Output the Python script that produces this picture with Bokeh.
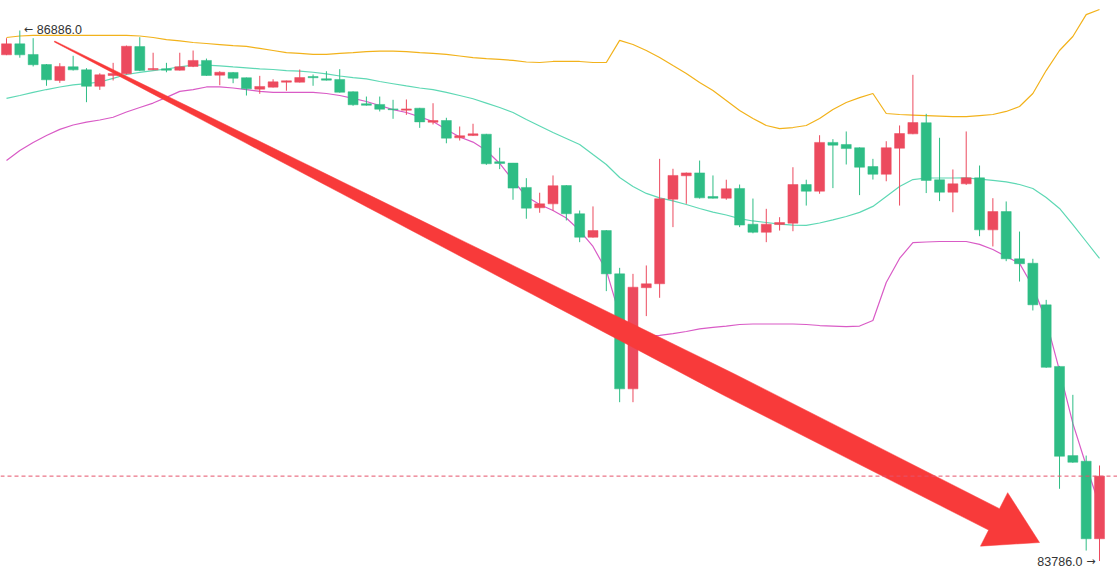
import numpy as np
from bokeh.plotting import figure
from bokeh.models import Range1d, ColumnDataSource, Span
from bokeh.core.properties import value
from bokeh.embed import file_html
from bokeh.resources import INLINE

# ---------------- data ----------------
opens = [86744, 86808, 86746, 86687, 86594, 86674, 86656, 86560, 86623, 86633,
         86792, 86656, 86662, 86654, 86676, 86711, 86625, 86641, 86610, 86543,
         86555, 86584, 86584, 86617, 86604, 86600, 86528, 86458, 86454, 86428,
         86420, 86432, 86350, 86360, 86259, 86272, 86280, 86119, 86111, 85969,
         85850, 85873, 85980, 85815, 85678, 85717, 85464, 84792, 85383, 85406,
         85900, 86037, 86054, 85916, 85906, 85963, 85754, 85707, 85752, 85760,
         85986, 85947, 86232, 86220, 86201, 86091, 86046, 86198, 86282, 86347,
         86014, 85941, 85990, 86025, 85721, 85828, 85552, 85526, 85283, 84923,
         84402, 84369, 83916]
highs = [86841, 86886, 86841, 86690, 86695, 86738, 86666, 86636, 86697, 86798,
         86847, 86756, 86697, 86756, 86769, 86722, 86648, 86643, 86611, 86621,
         86601, 86593, 86658, 86629, 86648, 86660, 86530, 86500, 86500, 86481,
         86483, 86434, 86461, 86376, 86325, 86341, 86282, 86201, 86112, 86023,
         85938, 86039, 85982, 85834, 85858, 85720, 85499, 85464, 85513, 86136,
         86078, 86056, 86126, 86039, 86014, 85986, 85904, 85844, 85795, 86087,
         86014, 86274, 86251, 86296, 86203, 86136, 86239, 86331, 86627, 86399,
         86259, 86074, 86296, 86097, 85906, 85887, 85711, 85552, 85312, 84926,
         84757, 84402, 84344]
lows = [86742, 86727, 86676, 86563, 86580, 86652, 86467, 86539, 86594, 86630,
        86649, 86655, 86642, 86652, 86672, 86621, 86566, 86578, 86506, 86516,
        86553, 86534, 86582, 86563, 86594, 86523, 86446, 86447, 86413, 86370,
        86393, 86317, 86337, 86227, 86243, 86270, 86101, 86076, 85897, 85786,
        85821, 85834, 85776, 85649, 85676, 85363, 84714, 84714, 85217, 85324,
        85737, 85873, 85904, 85904, 85897, 85737, 85701, 85649, 85717, 85713,
        85863, 85932, 85965, 86103, 85924, 86015, 86005, 85863, 86280, 85936,
        85889, 85824, 85984, 85684, 85624, 85538, 85419, 85250, 84915, 84208,
        84360, 83847, 83786]
closes = [86808, 86744, 86686, 86598, 86676, 86656, 86560, 86627, 86635, 86794,
          86652, 86664, 86654, 86674, 86711, 86623, 86642, 86607, 86545, 86559,
          86586, 86592, 86611, 86610, 86596, 86525, 86452, 86449, 86426, 86423,
          86428, 86352, 86360, 86257, 86271, 86282, 86107, 86109, 85965, 85848,
          85873, 85979, 85815, 85678, 85717, 85464, 84792, 85386, 85406, 85903,
          86039, 86054, 85908, 85906, 85961, 85749, 85707, 85754, 85764, 85986,
          85947, 86232, 86216, 86196, 86087, 86046, 86201, 86284, 86348, 86010,
          85941, 85990, 86025, 85721, 85828, 85552, 85523, 85283, 84918, 84398,
          84363, 83916, 84282]

boll_upper = [86845, 86854, 86857, 86857, 86857, 86857, 86857, 86857, 86857, 86857,
              86854, 86845, 86833, 86825, 86816, 86810, 86804, 86798, 86793, 86781,
              86769, 86757, 86752, 86746, 86746, 86752, 86757, 86763, 86766, 86766,
              86763, 86757, 86752, 86746, 86737, 86728, 86722, 86717, 86711, 86702,
              86699, 86705, 86705, 86705, 86699, 86699, 86828, 86804, 86769, 86728,
              86681, 86635, 86582, 86535, 86477, 86419, 86372, 86331, 86313, 86319,
              86331, 86372, 86424, 86465, 86494, 86518, 86401, 86395, 86392, 86389,
              86386, 86383, 86383, 86389, 86395, 86413, 86442, 86518, 86652, 86769,
              86851, 86979, 87009]
boll_mid = [86489, 86506, 86524, 86541, 86556, 86568, 86576, 86585, 86606, 86629,
            86641, 86652, 86661, 86673, 86684, 86684, 86679, 86673, 86668, 86662,
            86658, 86652, 86649, 86642, 86632, 86620, 86611, 86603, 86588, 86575,
            86562, 86550, 86540, 86524, 86506, 86487, 86462, 86436, 86407, 86366,
            86328, 86290, 86255, 86220, 86161, 86103, 86027, 85974, 85934, 85908,
            85890, 85869, 85846, 85825, 85808, 85787, 85773, 85764, 85755, 85749,
            85747, 85761, 85779, 85799, 85823, 85858, 85916, 85974, 86015, 86024,
            86024, 86024, 86025, 86018, 86010, 86001, 85986, 85963, 85910, 85846,
            85752, 85653, 85554]
boll_lower = [86126, 86185, 86232, 86272, 86308, 86334, 86351, 86363, 86379, 86410,
              86436, 86462, 86495, 86530, 86541, 86556, 86556, 86550, 86540, 86530,
              86524, 86524, 86524, 86524, 86518, 86506, 86489, 86471, 86448, 86424,
              86407, 86381, 86354, 86308, 86264, 86234, 86185, 86109, 86010, 85916,
              85869, 85834, 85790, 85717, 85624, 85484, 85221, 85133, 85098, 85104,
              85115, 85127, 85142, 85151, 85159, 85168, 85171, 85171, 85171, 85171,
              85168, 85162, 85159, 85156, 85159, 85191, 85413, 85554, 85647, 85650,
              85653, 85653, 85653, 85636, 85606, 85565, 85525, 85390, 85191, 84899,
              84590, 84344, 84110]

# trend arrow: start and tip as (candle index, price)
arrow_start = (3.6, 86822)
arrow_tip = (77.5, 83894)

# ---------------- figure ----------------
W, H = 1117, 579
X0, X1 = -0.45, 83.35
Y0, Y1 = 83677.9, 87061.3

GREEN = "#2EBD85"
RED = "#EC4A5E"

p = figure(width=W, height=H, output_backend="svg", toolbar_location=None,
           x_range=Range1d(X0, X1), y_range=Range1d(Y0, Y1), min_border=0,
           background_fill_color="white", border_fill_color="white")
p.axis.visible = False
p.grid.visible = False
p.outline_line_color = None

x = np.arange(len(opens))
o = np.array(opens, dtype=float)
c = np.array(closes, dtype=float)
colors = np.where(c >= o, RED, GREEN)
src = ColumnDataSource(dict(x=x, high=highs, low=lows,
                            top=np.maximum(o, c), bottom=np.minimum(o, c),
                            color=colors))

# current price dashed line
p.add_layout(Span(location=closes[-1], dimension="width", line_color="#E5536A",
                  line_width=1, line_dash="4 3"))

# bollinger bands
p.line(x, boll_upper, line_color="#F2B21B", line_width=1.2)
p.line(x, boll_mid, line_color="#5ED8B4", line_width=1.2)
p.line(x, boll_lower, line_color="#D95BC6", line_width=1.2)

# candles
p.segment("x", "high", "x", "low", line_color="color", line_width=1, source=src)
p.vbar(x="x", width=0.75, top="top", bottom="bottom", fill_color="color",
       line_color="color", line_width=0.5, source=src)

# tapered arrow computed in screen-pixel space
sx = W / (X1 - X0)
sy = H / (Y1 - Y0)
S = np.array([arrow_start[0] * sx, arrow_start[1] * sy])
T = np.array([arrow_tip[0] * sx, arrow_tip[1] * sy])
L = np.linalg.norm(T - S)
u = (T - S) / L
n = np.array([-u[1], u[0]])
head_len, head_half, shaft_half = 51.0, 30.0, 12.0
B = T - u * head_len
ts = np.linspace(0, 1, 40)
P = S[None, :] + (B - S)[None, :] * ts[:, None]
hw = 0.5 + (shaft_half - 0.5) * np.minimum(1.0, ts / 0.72)
left = P + n[None, :] * hw[:, None]
right = P - n[None, :] * hw[:, None]
pts = np.vstack([left, [B + n * head_half], [T], [B - n * head_half], right[::-1]])
p.patch(pts[:, 0] / sx, pts[:, 1] / sy, fill_color="#F83A3A", line_color="#F83A3A",
        line_width=0.5)

# max / min labels (arrow glyph + value)
imax = int(np.argmax(highs))
imin = int(np.argmin(lows))
lab_font = value("Liberation Sans")
arr_font = value("DejaVu Sans")
p.text(x=[imax], y=[highs[imax]], text=["\u2190"], x_offset=4, y_offset=-1,
       text_align="left", text_baseline="middle", text_font=arr_font,
       text_font_size="11px", text_color="#333333")
p.text(x=[imax], y=[highs[imax]], text=[f"{highs[imax]:.1f}"], x_offset=17, y_offset=-1,
       text_align="left", text_baseline="middle", text_font=lab_font,
       text_font_size="12.5px", text_color="#333333")
p.text(x=[imin], y=[lows[imin]], text=["\u2192"], x_offset=-4, y_offset=0,
       text_align="right", text_baseline="middle", text_font=arr_font,
       text_font_size="11px", text_color="#333333")
p.text(x=[imin], y=[lows[imin]], text=[f"{lows[imin]:.1f}"], x_offset=-17, y_offset=0,
       text_align="right", text_baseline="middle", text_font=lab_font,
       text_font_size="12.5px", text_color="#333333")

open("out.html", "w").write(file_html(p, INLINE))
